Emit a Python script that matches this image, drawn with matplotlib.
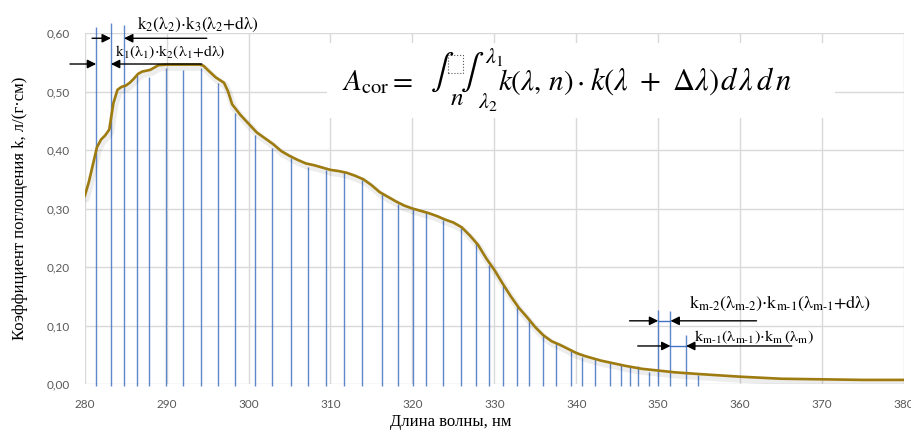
import matplotlib
matplotlib.use('Agg')
import matplotlib.pyplot as plt
import matplotlib.patheffects as pe
from matplotlib.patches import Rectangle

plt.rcParams['mathtext.fontset'] = 'stix'

# absorption curve
wl = [280, 280.5, 281, 281.5, 282, 282.5, 283, 283.5, 284, 284.5, 285, 285.5,
      286, 286.5, 287, 288, 288.5, 289, 290, 292, 294, 294.5, 295, 296, 297,
      297.5, 298, 299, 300, 301, 302, 303, 304, 305, 306, 307, 308, 309, 310,
      311, 312, 313, 314, 315, 316, 317, 318, 319, 320, 321, 322, 323, 324,
      325, 326, 327, 328, 329, 330, 331, 332, 333, 334, 335, 336, 337, 338,
      339, 340, 341, 342, 343, 344, 345, 346, 348, 350, 352, 355, 360, 365,
      370, 375, 380]
k = [0.321, 0.345, 0.375, 0.405, 0.418, 0.425, 0.435, 0.48, 0.503, 0.508,
     0.51, 0.515, 0.522, 0.53, 0.534, 0.537, 0.541, 0.545, 0.546, 0.546,
     0.546, 0.544, 0.537, 0.524, 0.515, 0.50, 0.478, 0.46, 0.445, 0.43,
     0.42, 0.41, 0.398, 0.39, 0.383, 0.377, 0.374, 0.37, 0.366, 0.364,
     0.361, 0.356, 0.35, 0.34, 0.328, 0.32, 0.312, 0.305, 0.30, 0.296,
     0.292, 0.287, 0.281, 0.276, 0.268, 0.254, 0.238, 0.215, 0.195, 0.172,
     0.15, 0.13, 0.114, 0.097, 0.083, 0.073, 0.067, 0.06, 0.053, 0.048,
     0.044, 0.04, 0.037, 0.034, 0.031, 0.026, 0.023, 0.02, 0.017, 0.0125,
     0.009, 0.008, 0.007, 0.007]

# vertical sampling lines
line_x = [281.4, 283.2, 284.8, 286.4, 287.8, 289.9, 292.0, 294.2, 296.3, 298.4,
          300.8, 302.9, 305.2, 307.3, 309.4, 311.7, 313.9, 316.3, 318.2, 320.1,
          321.7, 323.7, 325.9, 327.7, 329.3, 331.1, 332.8, 334.2, 335.9, 337.5,
          339.4, 340.7, 342.3, 344.1, 345.5, 346.5, 347.5, 348.9, 350.0, 351.5,
          353.4, 354.9]
line_top = [0.61, 0.617, 0.614, 0.528, 0.525, 0.54, 0.537, 0.54, 0.514, 0.463,
            0.426, 0.403, 0.386, 0.371, 0.366, 0.363, 0.349, 0.325, 0.308, 0.299,
            0.295, 0.28, 0.267, 0.241, 0.203, 0.169, 0.132, 0.111, 0.082, 0.07,
            0.056, 0.047, 0.043, 0.036, 0.032, 0.030, 0.031, 0.021, 0.126, 0.124,
            0.084, 0.015]

x_ticks = [280, 290, 300, 310, 320, 330, 340, 350, 360, 370, 380]
y_ticks = [0.0, 0.1, 0.2, 0.3, 0.4, 0.5, 0.6]

W, H = 912, 430


def px(x, y):
    # pixel position (from top-left) -> figure fraction
    return x / W, 1 - y / H


fig = plt.figure(figsize=(W / 100, H / 100), dpi=100)
ax = fig.add_axes([84.7 / W, 1 - 384 / H, (904 - 84.7) / W, (384 - 33) / H])

ax.vlines(line_x, -0.003, line_top, color='#4472C4', lw=1.0, alpha=0.85,
          clip_on=False, zorder=3)

ax.plot(wl, k, color='#9E7B0F', lw=1.9, zorder=4, solid_capstyle='round',
        path_effects=[pe.SimpleLineShadow(offset=(1, -2), shadow_color='k',
                                          alpha=0.07, linewidth=5),
                      pe.Normal()])

ax.set_xlim(280, 380)
ax.set_ylim(0, 0.6)
ax.set_xticks(x_ticks)
ax.set_yticks(y_ticks)
ax.set_yticklabels([f'{v:.2f}'.replace('.', ',') for v in y_ticks])
ax.grid(color='#D9D9D9', lw=1.0)
ax.set_axisbelow(True)
for s in ax.spines.values():
    s.set_visible(False)
ax.tick_params(length=0, labelsize=8.5, labelcolor='#595959', pad=11)
for lab in ax.get_xticklabels() + ax.get_yticklabels():
    lab.set_family('Lato')

fig.text(*px(20, 208), 'Коэффициент поглощения k, л/(г·см)',
         rotation=90, ha='center', va='center', family='Liberation Serif',
         fontsize=12)
fig.text(*px(451, 422), 'Длина волны, нм', ha='center', va='center',
         family='Liberation Serif', fontsize=12)

# formula on a white box
fig.patches.append(Rectangle(px(327, 118), 508 / W, 75 / H,
                             transform=fig.transFigure, fc='white', ec='none',
                             zorder=2))
fig.text(*px(342, 90), r'$A_{\rm cor} =$', fontsize=21, va='baseline',
         ha='left', zorder=3)
fig.text(*px(442, 72), r'$\int$', fontsize=25, va='center', ha='center',
         zorder=3)
fig.text(*px(472, 72), r'$\int$', fontsize=25, va='center', ha='center',
         zorder=3)
fig.text(*px(457, 98), r'$n$', fontsize=18, va='center', ha='center', zorder=3)
fig.text(*px(494, 57), r'$\lambda_1$', fontsize=16, va='center', ha='center',
         zorder=3)
fig.text(*px(488, 102), r'$\lambda_2$', fontsize=16, va='center', ha='center',
         zorder=3)
fig.patches.append(Rectangle(px(448, 73), 15 / W, 18 / H,
                             transform=fig.transFigure, fill=False,
                             ec='#555555', ls=':', lw=0.8, zorder=3))
fig.text(*px(498, 90), r'$k(\lambda,\,n)$', fontsize=21, va='baseline',
         ha='left', zorder=3)
fig.text(*px(580, 90), r'$\cdot$', fontsize=21, va='baseline',
         ha='center', zorder=3)
seg = fig.text(*px(590, 90), r'$k(\lambda\ +\ \mathit{\Delta}\lambda)$',
               fontsize=22, va='baseline', ha='left', zorder=3)
renderer = fig.canvas.get_renderer()
x_end = seg.get_window_extent(renderer).x1
fig.text((x_end + 1) / W, 1 - 90 / H, r'$d\,\lambda\, d\,n$', fontsize=22,
         va='baseline', ha='left', zorder=3)


# arrows and labels
def arrow(tip, tail, y, color='black'):
    ax.annotate('', xy=(tip, y), xytext=(tail, y), annotation_clip=False,
                arrowprops=dict(arrowstyle='-|>', color=color, lw=1.0,
                                mutation_scale=13, shrinkA=0, shrinkB=0),
                zorder=5)


arrow(283.2, 280.9, 0.591)
arrow(284.8, 294.9, 0.591)
arrow(281.4, 278.2, 0.547)
arrow(283.2, 294.3, 0.547)
arrow(350.0, 346.5, 0.108)
arrow(351.5, 362.0, 0.108)
ax.plot([350.0, 351.5], [0.108, 0.108], color='#4472C4', lw=1, clip_on=False)
arrow(351.5, 347.5, 0.065)
arrow(353.4, 366.3, 0.065)
ax.plot([351.5, 353.4], [0.065, 0.065], color='#4472C4', lw=1, clip_on=False)

ax.text(286.4, 0.614, r'$\mathrm{k_2(\lambda_2){\cdot}k_3(\lambda_2{+}d\lambda)}$',
        fontsize=12.5, va='center', ha='left', clip_on=False)
ax.text(283.7, 0.567, r'$\mathrm{k_1(\lambda_1){\cdot}k_2(\lambda_1{+}d\lambda)}$',
        fontsize=11.3, va='center', ha='left', clip_on=False)
ax.text(353.8, 0.137,
        r'$\mathrm{k_{m\text{-}2}(\lambda_{m\text{-}2}){\cdot}k_{m\text{-}1}(\lambda_{m\text{-}1}{+}d\lambda)}$',
        fontsize=13, va='center', ha='left', clip_on=False)
ax.text(354.4, 0.079,
        r'$\mathrm{k_{m\text{-}1}(\lambda_{m\text{-}1}){\cdot}k_m\,(\lambda_m)}$',
        fontsize=11.7, va='center', ha='left', clip_on=False)

fig.savefig('out.png', dpi=100)
